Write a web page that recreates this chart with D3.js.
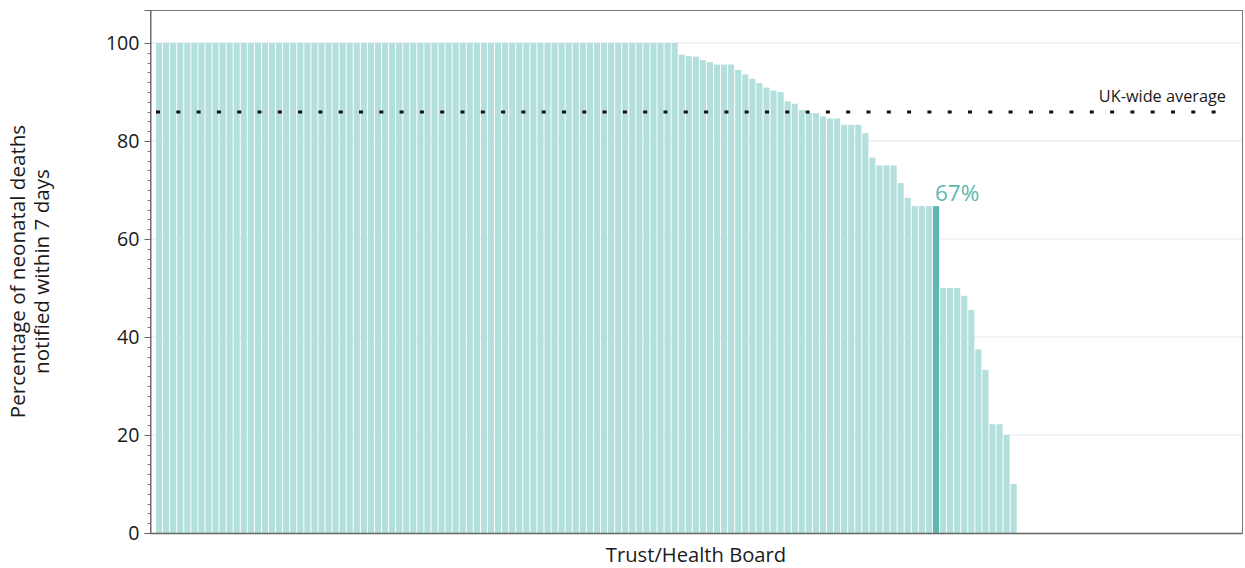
<!DOCTYPE html>
<html>
<head>
<meta charset="utf-8">
<script src="https://cdn.jsdelivr.net/npm/d3@7"></script>
<style>
  html, body { margin: 0; padding: 0; background: #fff; }
  svg { display: block; font-family: "Open Sans", "Noto Sans", sans-serif; }
</style>
</head>
<body>
<svg id="chart" width="1245" height="568"></svg>
<script>
// ---- data ----
const fullTrustsCount = 74; // trusts at 100%
const topValues = Array(fullTrustsCount).fill(100);
const midValues = [97.6, 97.3, 97.2, 96.5, 96.1, 95.6, 95.6, 95.6, 94.5, 93.6,
                   92.7, 91.8, 90.9, 90.3, 90.0, 88.1, 87.6, 86.3, 85.7, 85.7,
                   85.0, 84.6, 84.6, 83.3, 83.3, 83.3, 81.6, 76.6, 75.0, 75.0,
                   75.0, 71.4, 68.4, 66.7, 66.7, 66.7];
const highlightValue = [66.7];
const lowValues = [50, 50, 50, 48.4, 45.5, 37.5, 33.3, 22.2, 22.2, 20, 10];
const values = topValues.concat(midValues, highlightValue, lowValues);
const categories = values.map((_, i) => "Trust " + (i + 1));
const highlightIndex = topValues.length + midValues.length;
const highlightLabel = "67%";
const ukAverage = 85.9;
const ukAverageLabel = "UK-wide average";
const yMajorTicks = [0, 20, 40, 60, 80, 100];
const yMinorTicks = d3.range(0, 101, 2);
const yTitleLines = ["Percentage of neonatal deaths", "notified within 7 days"];
const xTitle = "Trust/Health Board";

// ---- layout ----
const svg = d3.select("#chart");
const L = 150, T = 10, R = 1242, B = 533;
const W = R - L, H = B - T;
const step = 7.055;

const x = d3.scaleBand()
  .domain(categories)
  .range([6, 6 + categories.length * step])
  .paddingInner(0.14)
  .paddingOuter(0);
const y = d3.scaleLinear().domain([0, 106.73]).range([H, 0]);

const g = svg.append("g").attr("transform", `translate(${L},${T})`);

// gridlines
g.append("g").selectAll("line").data(yMajorTicks.filter(d => d > 0)).join("line")
  .attr("x1", 0).attr("x2", W)
  .attr("y1", d => y(d)).attr("y2", d => y(d))
  .attr("stroke", "#e4e7f4").attr("stroke-width", 1);

// bars
g.append("g").selectAll("rect").data(values).join("rect")
  .attr("x", (d, i) => x(categories[i]))
  .attr("width", x.bandwidth())
  .attr("y", d => y(d))
  .attr("height", d => y(0) - y(d))
  .attr("fill", (d, i) => i === highlightIndex ? "#5cb8b0" : "#b3dfdc");

// highlight label
g.append("text")
  .attr("x", x(categories[highlightIndex]) + 2)
  .attr("y", y(highlightValue[0]) - 5)
  .attr("fill", "#5cb8b0")
  .attr("font-size", 22.5)
  .text(highlightLabel);

// UK average line
g.append("line")
  .attr("x1", 6).attr("x2", W - 14)
  .attr("y1", y(ukAverage)).attr("y2", y(ukAverage))
  .attr("stroke", "#111").attr("stroke-width", 3)
  .attr("stroke-dasharray", "4,16.3");
g.append("text")
  .attr("x", W - 16).attr("y", y(ukAverage) - 10)
  .attr("text-anchor", "end")
  .attr("font-size", 16.3)
  .attr("fill", "#1a1a1a")
  .text(ukAverageLabel);

// frame
g.append("rect").attr("x", 0.5).attr("y", 0.5).attr("width", W).attr("height", H)
  .attr("fill", "none").attr("stroke", "#777").attr("stroke-width", 1);
g.append("line").attr("x1", 0).attr("x2", W).attr("y1", H + 0.5).attr("y2", H + 0.5)
  .attr("stroke", "#666").attr("stroke-width", 1.5);

// y axis
const yAxis = g.append("g").attr("transform", "translate(0.5,0)")
  .call(d3.axisLeft(y).tickValues(yMajorTicks).tickSize(6).tickPadding(5));
yAxis.select(".domain").attr("stroke", "#666");
yAxis.selectAll(".tick line").attr("stroke", "#666");
yAxis.selectAll(".tick text").attr("font-size", 19.6).attr("fill", "#1a1a1a")
  .attr("font-family", "\"Open Sans\", sans-serif");
g.append("g").attr("transform", "translate(0.5,0)").selectAll("line")
  .data(yMinorTicks.filter(d => !yMajorTicks.includes(d))).join("line")
  .attr("x1", -3).attr("x2", 0)
  .attr("y1", d => Math.round(y(d)) + 0.5).attr("y2", d => Math.round(y(d)) + 0.5)
  .attr("stroke", "#777");

// axis titles
const yt = svg.append("text")
  .attr("transform", `translate(0,${T + H / 2}) rotate(-90)`)
  .attr("text-anchor", "middle")
  .attr("font-size", 20.6).attr("fill", "#1a1a1a");
yt.selectAll("tspan").data(yTitleLines).join("tspan")
  .attr("x", 0).attr("y", (d, i) => 25 + i * 24)
  .text(d => d);

svg.append("text")
  .attr("x", L + W / 2).attr("y", 562)
  .attr("text-anchor", "middle")
  .attr("font-size", 20.2).attr("fill", "#1a1a1a")
  .text(xTitle);
</script>
</body>
</html>
